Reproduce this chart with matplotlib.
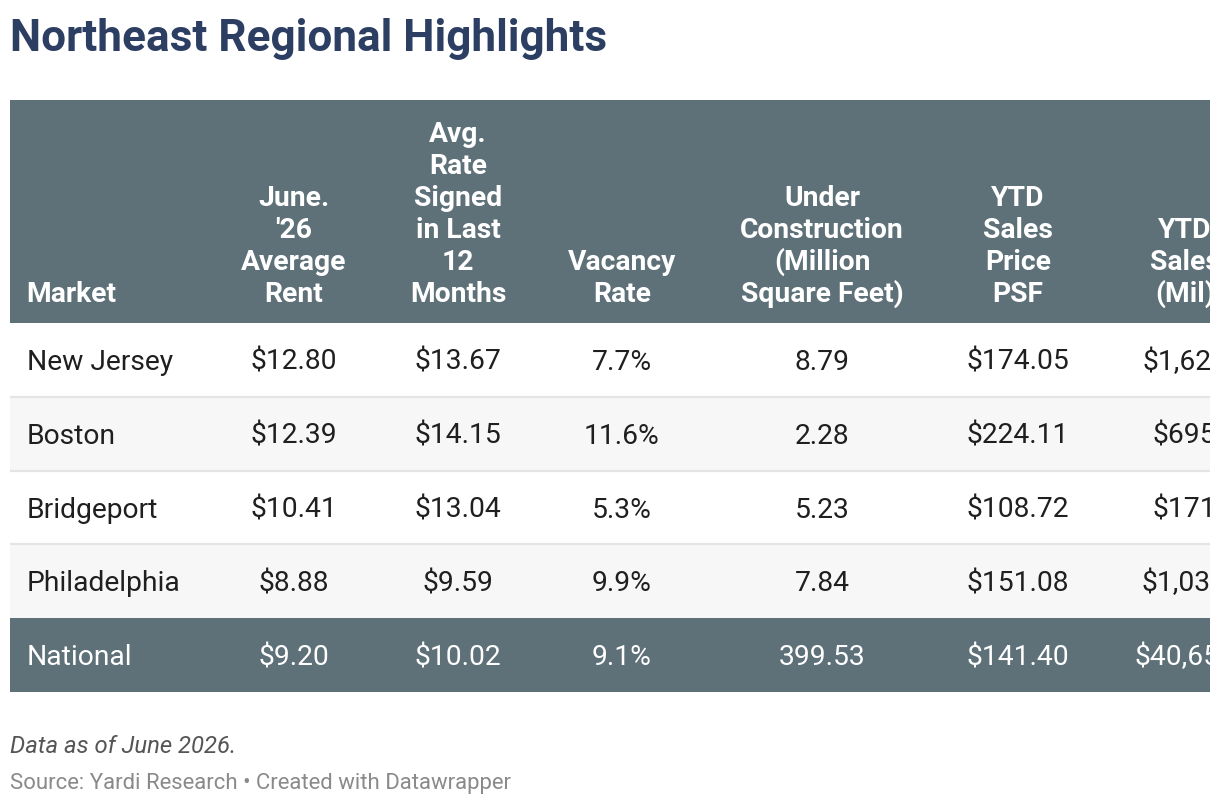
import matplotlib.pyplot as plt
from matplotlib.patches import Rectangle

# table content
title = "Northeast Regional Highlights"
headers = [
    ["Market"],
    ["June.", "'26", "Average", "Rent"],
    ["Avg.", "Rate", "Signed", "in Last", "12", "Months"],
    ["Vacancy", "Rate"],
    ["Under", "Construction", "(Million", "Square Feet)"],
    ["YTD", "Sales", "Price", "PSF"],
    ["YTD", "Sales", "(Mil)"],
]
markets = ["New Jersey", "Boston", "Bridgeport", "Philadelphia", "National"]
avg_rent = ["$12.80", "$12.39", "$10.41", "$8.88", "$9.20"]
avg_signed = ["$13.67", "$14.15", "$13.04", "$9.59", "$10.02"]
vacancy = ["7.7%", "11.6%", "5.3%", "9.9%", "9.1%"]
under_constr = ["8.79", "2.28", "5.23", "7.84", "399.53"]
sales_psf = ["$174.05", "$224.11", "$108.72", "$151.08", "$141.40"]
sales_mil = ["$1,623.45", "$695.30", "$171.12", "$1,034.56", "$40,654.20"]
note = "Data as of June 2026."
source = "Source: Yardi Research \u2022 Created with Datawrapper"

columns = [markets, avg_rent, avg_signed, vacancy, under_constr, sales_psf, sales_mil]

# layout (pixels)
W, H = 1220, 806
left, right = 10, 1210
head_top, head_bot = 100, 323
row_h = 73.8
col_x = [27, 294, 458, 622, 822, 1018, 1204]
head_x = [26, 294, 458, 622, 822, 1018, 1185]
slate = "#5e7078"
stripe = "#f7f7f7"
line_col = "#e4e4e4"
ink = "#1f1f1f"
fs = 20.3

plt.rcParams['font.family'] = ['Roboto', 'DejaVu Sans']

fig = plt.figure(figsize=(W / 100, H / 100), dpi=100)
# the table is cut at the right edge, so it lives in its own clipping axes
ax = fig.add_axes([left / W, 0, (right - left) / W, 1])
ax.set_xlim(left, right)
ax.set_ylim(H, 0)
ax.axis('off')

fig.text(10 / W, 1 - 51 / H, title, fontsize=31.8, fontweight='bold',
         color="#2c3f63", va='baseline')

# header band
ax.add_patch(Rectangle((left, head_top), right - left, head_bot - head_top, color=slate, lw=0))
for i, lines in enumerate(headers):
    ha = 'left' if i == 0 else 'center'
    for k, ln in enumerate(reversed(lines)):
        ax.text(head_x[i], 302 - 32 * k, ln, fontsize=fs, fontweight='bold',
                color='white', ha=ha, va='baseline', clip_on=True)

# body rows
for r in range(len(markets)):
    y0 = head_bot + r * row_h
    national = markets[r] == "National"
    if national:
        bg = slate
    elif r % 2 == 1:
        bg = stripe
    else:
        bg = 'white'
    ax.add_patch(Rectangle((left, y0), right - left, row_h, color=bg, lw=0))
    if 0 < r < len(markets) - 1:
        ax.plot([left, right], [y0, y0], color=line_col, lw=1.6, solid_capstyle='butt')
    fc = 'white' if national else ink
    for i, col in enumerate(columns):
        ha = 'left' if i == 0 else 'center'
        ax.text(col_x[i], y0 + row_h / 2 + 10, col[r], fontsize=fs,
                color=fc, ha=ha, va='baseline', clip_on=True)

fig.text(10 / W, 1 - 753 / H, note, fontsize=17.2, fontstyle='italic',
         color="#555555", va='baseline')
fig.text(10 / W, 1 - 789 / H, source, fontsize=15.9, color="#8a8a8a", va='baseline')

fig.savefig("out.png", dpi=100, facecolor='white')
